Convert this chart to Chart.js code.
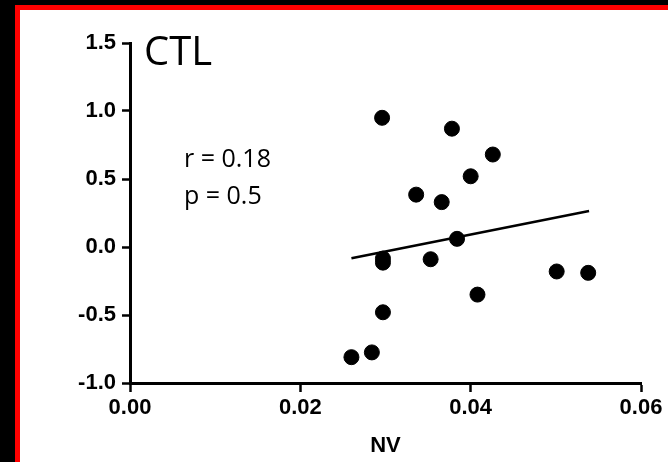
<!DOCTYPE html>
<html>
<head>
<meta charset="utf-8">
<script src="https://cdn.jsdelivr.net/npm/chart.js@4"></script>
<style>
    html, body { margin:0; padding:0; background:#000; width:668px; height:462px; overflow:hidden; }
    #frame {
        position:absolute; left:15px; top:5px;
        width:648px; height:452px;
        border-left:5px solid #ff0000; border-top:5px solid #ff0000;
        background:#fff;
    }
    canvas { display:block; }
</style>
</head>
<body>
<div id="frame"><canvas id="ctlChart" width="648" height="452"></canvas></div>
<script>
// NV values of each CTL subject
const nvValues = [0.0296, 0.0378, 0.0426, 0.0400, 0.0336, 0.0366, 0.0384, 0.0297, 0.0297,
                  0.0353, 0.0501, 0.0538, 0.0408, 0.0297, 0.0284, 0.0260];
// y values of each CTL subject
const yValues  = [0.95, 0.87, 0.68, 0.52, 0.385, 0.33, 0.06, -0.085, -0.115,
                  -0.09, -0.18, -0.19, -0.35, -0.48, -0.775, -0.81];

// regression line ends
const fitX = [0.0260, 0.0539];
const fitY = [-0.083, 0.265];

// axis ticks
const xTicks = [0.00, 0.02, 0.04, 0.06];
const yTicks = [-1.0, -0.5, 0.0, 0.5, 1.0, 1.5];

const groupLabel = "CTL";
const statLines = ["r = 0.18", "p = 0.5"];
const xTitle = "NV";

const tickFont = { family:'"Liberation Sans", Arial, sans-serif', size:22, weight:'bold' };

// text on the plot (label + statistics)
const notePlugin = {
    id:'notes',
    afterDraw: function(chart) {
        let ctx = chart.ctx;
        ctx.save();
        ctx.fillStyle = '#000';
        ctx.textBaseline = 'alphabetic';
        ctx.textAlign = 'left';
        ctx.font = '40px "Open Sans", sans-serif';
        ctx.fillText(groupLabel, 124, 55);
        ctx.font = '25px "Open Sans", sans-serif';
        ctx.fillText(statLines[0], 164, 157);
        ctx.fillText(statLines[1], 164, 194);
        ctx.restore();
    }
};

let points = nvValues.map(function(v, i){ return {x:v, y:yValues[i]}; });
let fitLine = fitX.map(function(v, i){ return {x:v, y:fitY[i]}; });

new Chart(document.getElementById('ctlChart'), {
    type:'scatter',
    data: {
        datasets: [
            {
                data: points,
                backgroundColor:'#000',
                borderColor:'#000',
                pointRadius:7.5,
                pointHoverRadius:7.5
            },
            {
                type:'line',
                data: fitLine,
                borderColor:'#000',
                borderWidth:2.5,
                pointRadius:0,
                fill:false
            }
        ]
    },
    options: {
        responsive:false,
        animation:false,
        devicePixelRatio:1,
        layout: { padding: { top:33, right:27, left:0, bottom:0 } },
        plugins: { legend:{ display:false }, tooltip:{ enabled:false } },
        scales: {
            x: {
                type:'linear',
                min:0, max:0.06,
                afterFit: function(s){ s.height = 79; },
                afterBuildTicks: function(s){ s.ticks = xTicks.map(function(v){ return {value:v}; }); },
                ticks: {
                    color:'#000',
                    font:tickFont,
                    padding:3,
                    maxRotation:0,
                    callback: function(v){ return Number(v).toFixed(2); }
                },
                grid: { drawOnChartArea:false, drawTicks:true, tickLength:9, tickColor:'#000', tickWidth:2.5 },
                border: { display:true, color:'#000', width:3 },
                title: {
                    display:true, text:xTitle, color:'#000',
                    font:{ family:'"Liberation Sans", Arial, sans-serif', size:22, weight:'bold' },
                    padding:{ top:0, bottom:3 }
                }
            },
            y: {
                type:'linear',
                min:-1, max:1.5,
                afterFit: function(s){ s.width = 110; },
                afterBuildTicks: function(s){ s.ticks = yTicks.map(function(v){ return {value:v}; }); },
                ticks: {
                    color:'#000',
                    font:tickFont,
                    padding:6,
                    callback: function(v){ return Number(v).toFixed(1); }
                },
                grid: { drawOnChartArea:false, drawTicks:true, tickLength:8, tickColor:'#000', tickWidth:2.5 },
                border: { display:true, color:'#000', width:3 }
            }
        }
    },
    plugins:[notePlugin]
});
</script>
</body>
</html>
